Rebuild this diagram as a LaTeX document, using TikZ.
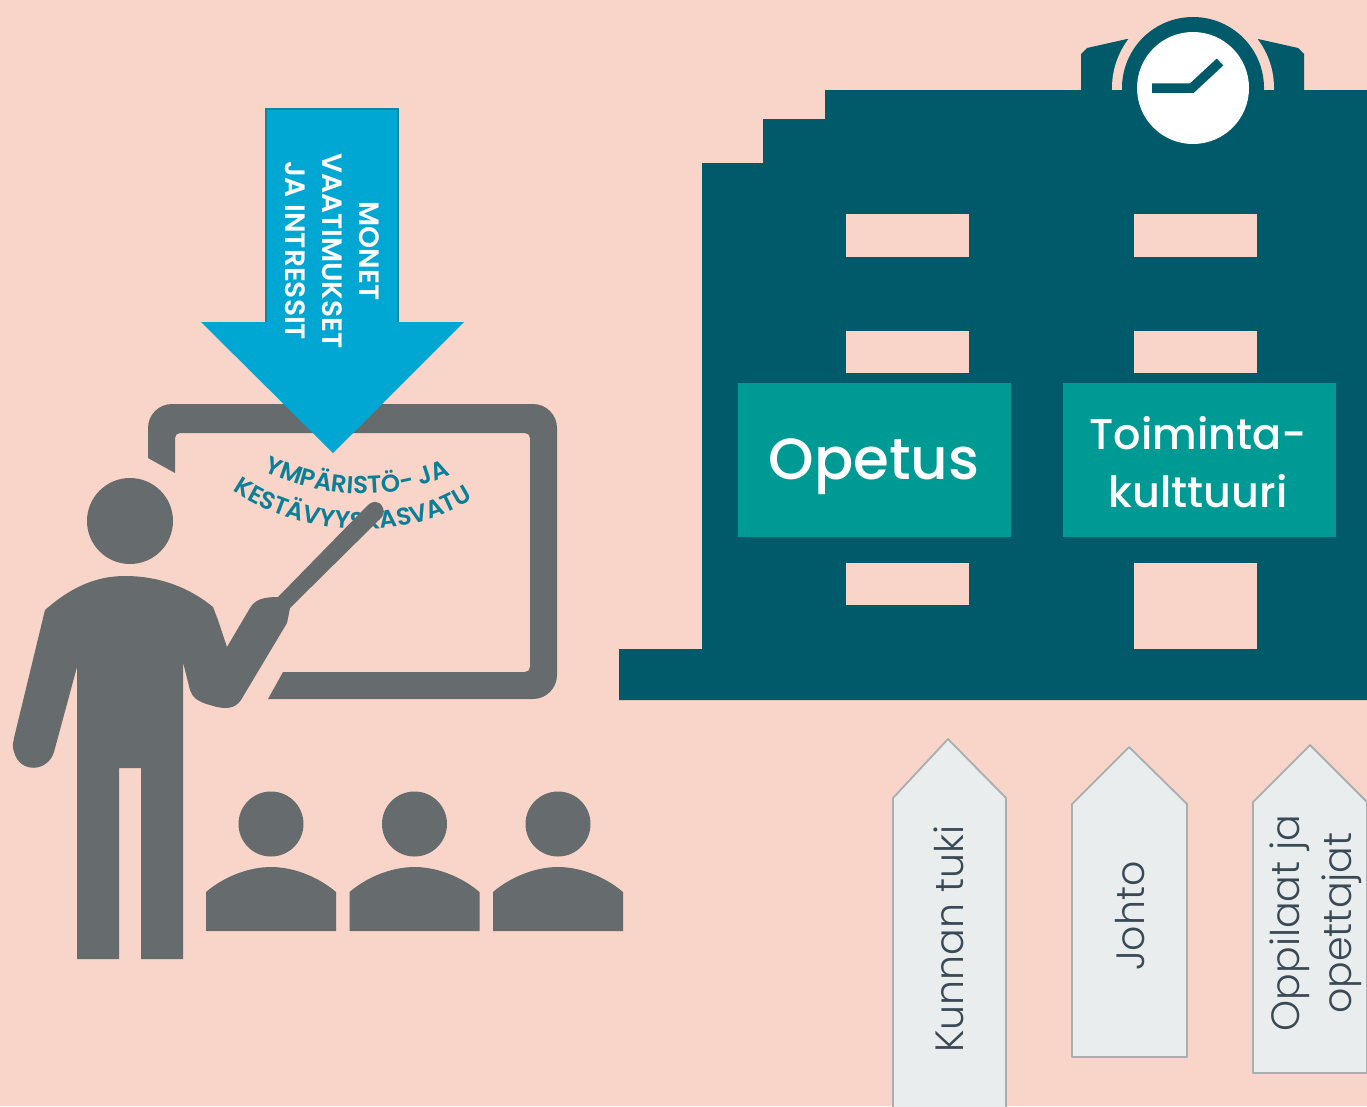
\documentclass[tikz,border=0pt]{standalone}
\usepackage{xcolor}
\usepackage{fontspec}
\setmainfont{Poppins}
\newfontfamily\medfont{Poppins Medium}
\newfontfamily\lightfont{Poppins Light}
\newfontfamily\semifont{Poppins SemiBold}
\usetikzlibrary{decorations.text}

\definecolor{pagepink}{HTML}{F8D5C8}
\definecolor{schoolteal}{HTML}{005A69}
\definecolor{boxteal}{HTML}{009A94}
\definecolor{arrowblue}{HTML}{00A7D3}
\definecolor{arrowedge}{HTML}{0A86A3}
\definecolor{figgray}{HTML}{666B6D}
\definecolor{tagfill}{HTML}{E9EDED}
\definecolor{tagedge}{HTML}{A9AEB0}
\definecolor{tagtext}{HTML}{3A4956}
\definecolor{curvetext}{HTML}{0B7F98}

\newcommand{\curvefont}{\fontsize{24.5}{26}\selectfont\semifont\color{curvetext}}

\tikzset{
	tag/.style={fill=tagfill, draw=tagedge, line width=1.8pt, line join=round},
	tagtxt/.style={rotate=90, text=tagtext, align=center, font=\fontsize{39.5}{52}\selectfont\lightfont, inner sep=0pt},
	subject/.style={text=white, align=center, inner sep=0pt},
	windowbox/.style={fill=pagepink},
	figure/.style={fill=figgray}
}

\begin{document}
\begin{tikzpicture}[x=1pt, y=-1pt]
	\useasboundingbox (0,0) rectangle (1367,1106);
	\clip (0,0) rectangle (1367,1106);
	\fill[pagepink] (0,0) rectangle (1367,1106);

	% Draw the school
	\begin{scope}
		\fill[schoolteal] (1081,95) -- (1081,54) -- (1087,48) -- (1127,39) -- (1258,39) -- (1298,48) -- (1304,54) -- (1304,95) -- cycle;
		\begin{scope}
			\clip (1100,0) rectangle (1290,90);
			\fill[pagepink] (1193,88) circle (81);
		\end{scope}
		\fill[schoolteal] (619,700) -- (619,649) -- (702,649) -- (702,163) -- (763,163) -- (763,119) -- (825,119) -- (825,90) -- (1367,90) -- (1367,700) -- cycle;
		\fill[schoolteal] (1193,88) circle (71);
		\fill[white] (1193,88) circle (56);
		\draw[schoolteal, line width=9.5pt] (1152,88) -- (1192,88) -- (1220,62);

		\foreach \wx in {846, 1134} {
			\fill[windowbox] (\wx,214) rectangle +(123,43);
			\fill[windowbox] (\wx,331) rectangle +(123,42);
		}
		\fill[windowbox] (846,563) rectangle (969,605);
		\fill[windowbox] (1134,563) rectangle (1257,649);

		\fill[boxteal] (738,383) rectangle (1011,537);
		\fill[boxteal] (1063,383) rectangle (1336,537);
		\node[subject, font=\fontsize{58}{60}\selectfont\medfont] (opetus) at (874,467) {Opetus};
		\node[subject, font=\fontsize{43}{58}\selectfont\medfont] (kulttuuri) at (1198,462) {Toiminta-\\kulttuuri};
	\end{scope}

	% Draw the tags under the school
	\draw[tag] (893,1120) -- (893,798) -- (948,739) -- (1006,798) -- (1006,1120);
	\draw[tag] (1072,1057) -- (1072,804) -- (1129,747) -- (1187,804) -- (1187,1057) -- cycle;
	\draw[tag] (1253,1073) -- (1253,802) -- (1310,745) -- (1367,802) -- (1367,1073) -- cycle;
	\node[tagtxt] (kunta) at (949,939) {Kunnan tuki};
	\node[tagtxt] (johto) at (1130,916) {Johto};
	\node[tagtxt] (oppilaat) at (1316,923) {Oppilaat ja\\opettajat};

	% Draw the board and its text
	\fill[figure] (148,458) [rounded corners=24] -- (148,404) -- (557,404) -- (557,699) [sharp corners] -- (268,699) -- (283,672) [rounded corners=5] -- (530,672) -- (530,433) -- (175,433) [sharp corners] -- (175,473) -- cycle;
	\path[decorate, decoration={text along path, text align=center, text={|\curvefont|YMPÄRISTÖ- JA}}] (246,462) .. controls (315,500) and (395,507) .. (468,466);
	\path[decorate, decoration={text along path, text align=center, text={|\curvefont|KESTÄVYYSKASVATU}}] (218,480) .. controls (295,542) and (415,547) .. (488,488);

	% Draw the big arrow
	\fill[arrowblue] (266,109) -- (398,109) -- (398,322) -- (464,322) -- (333,453) -- (201,322) -- (266,322) -- cycle;
	\draw[arrowedge, line width=2.5pt] (266,322) -- (266,109) -- (398,109) -- (398,322);
	\node[rotate=-90, text=white, align=center, inner sep=0pt, font=\fontsize{28}{37}\selectfont\semifont] (demands) at (332,251) {MONET\\VAATIMUKSET\\JA INTRESSIT};

	% Draw the teacher
	\fill[figure] (130,521) circle (43);
	\fill[figure] (45,610) .. controls (70,588) and (95,576) .. (125,576) .. controls (160,576) and (190,588) .. (213,607)
		-- (218,620) -- (227,647) -- (250,608) .. controls (255,600) and (262,597) .. (278,597)
		-- (366,507) .. controls (372,500) and (380,500) .. (383,508) .. controls (385,513) and (383,516) .. (380,519)
		-- (290,608) -- (287,623) -- (241,700) .. controls (235,709) and (225,710) .. (210,705) .. controls (198,702) and (192,697) .. (190,690)
		-- (183,662) -- (183,959) -- (141,959) -- (141,768) -- (119,768) -- (119,959) -- (77,959) -- (77,667)
		-- (54,752) .. controls (48,772) and (20,774) .. (14,752) .. controls (12,745) and (13,742) .. (14,738) -- cycle;

	% Draw the pupils
	\foreach \px in {271, 414.5, 558} {
		\fill[figure] (\px,824) circle (32.5);
		\fill[figure] (\px-65,931) -- (\px-65,892) .. controls (\px-45,875) and (\px-20,867) .. (\px,867) .. controls (\px+20,867) and (\px+45,875) .. (\px+65,892) -- (\px+65,931) -- cycle;
	}
\end{tikzpicture}
\end{document}
